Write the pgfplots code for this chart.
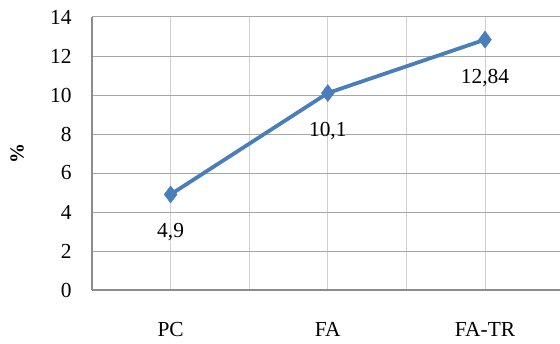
\documentclass[border=0pt]{standalone}
\usepackage{pgfplots}
\pgfplotsset{compat=1.18}
\usepackage{fontspec}
\setmainfont{Liberation Serif}
\definecolor{lineblue}{HTML}{4A7EBB}
\definecolor{hgrid}{HTML}{A6A6A6}
\definecolor{vgrid}{HTML}{D0D0D0}
\definecolor{axisgray}{HTML}{8C8C8C}
\begin{document}
\begin{tikzpicture}[x=1bp,y=1bp]
\path[use as bounding box] (0,0) rectangle (560,343);
\begin{axis}[
  at={(92bp,53bp)}, anchor=south west,
  scale only axis, width=468bp, height=273bp,
  xmin=0, xmax=5.954, ymin=0, ymax=14,
  axis x line*=bottom, axis y line*=left,
  axis line style={axisgray, line width=1.2pt},
  xtick={1,3,5}, xticklabels={PC,FA,FA-TR},
  minor xtick={0,2,4,6},
  ytick={0,2,...,14},
  major tick length=0pt, minor tick length=0pt,
  xmajorgrids, xminorgrids, ymajorgrids,
  x grid style={vgrid, line width=1pt},
  y grid style={hgrid, line width=1pt},
  tick label style={font=\fontsize{21.5}{24}\selectfont},
  xticklabel style={yshift=-29bp},
  yticklabel style={xshift=-17bp},
  /pgf/number format/assume math mode=true,
  ylabel={\textbf{\%}},
  ylabel style={at={(axis description cs:-0.16,0.5)}, anchor=center, font=\fontsize{20}{22}\selectfont},
  nodes near coords={\pgfmathprintnumber[use comma,precision=2,assume math mode=true]{\pgfplotspointmeta}},
  every node near coord/.append style={anchor=center, yshift=-38bp, font=\fontsize{21.5}{24}\selectfont, text=black},
  clip=true,
]
\addplot[color=lineblue, line width=3.8pt, mark=diamond*, mark size=8.5bp,
  mark options={fill=lineblue, draw=lineblue, line width=0.5pt}]
  coordinates {(1,4.9) (3,10.1) (5,12.84)};
\end{axis}
\end{tikzpicture}
\end{document}
